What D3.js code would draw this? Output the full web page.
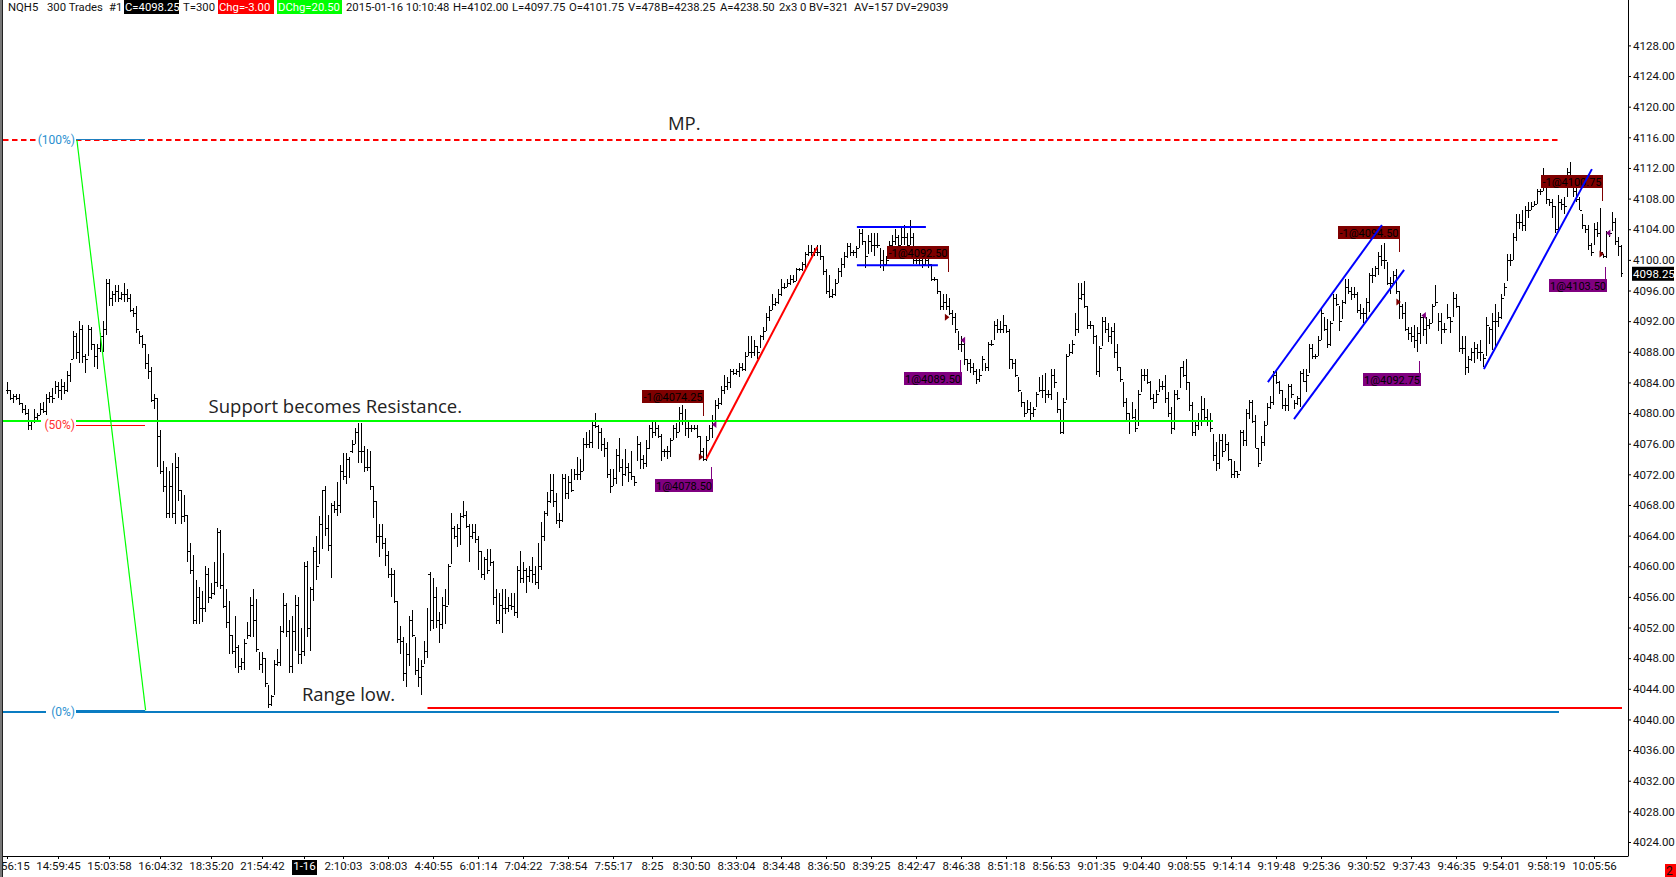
<!DOCTYPE html>
<html>
<head>
<meta charset="utf-8">
<title>NQH5 300 Trades</title>
<script src="https://cdn.jsdelivr.net/npm/d3@7"></script>
<style>
    html, body { margin: 0; padding: 0; background: #fff; overflow: hidden; }
    text { font-family: Roboto, "Open Sans", sans-serif; }
    .note { font-family: "Open Sans", sans-serif; font-size: 18.5px; fill: #222; }
</style>
</head>
<body>
<div id="chart"></div>
<script>
// bar values, one row per 20 bars
var highs = [
4084,4083,4082.5,4082.5,4082.5,4081.25,4081,4080.5,4079,4080.5,4080,4081.25,4081.5,4082.5,4082.75,4083.25,4084.25,4084,4084.5,4084,
4085.5,4086.5,4090.75,4090.5,4092,4091.5,4087.75,4091.5,4091.25,4089,4089,4090.5,4092,4097.5,4097.5,4096,4096.75,4096.75,4095.75,4097,
4096.25,4095.5,4093.75,4094,4090.75,4090.25,4089,4087.75,4086,4082.5,4082,4077.75,4073.75,4073,4072.5,4073.5,4074.75,4074.25,4070,4069.25,
4066.75,4063,4061.5,4058.25,4057.25,4056.75,4060,4059.75,4057.75,4060.5,4065,4064.75,4061.75,4057,4055.5,4051,4053.5,4049.75,4048,4050.5,
4052.75,4056,4057,4055.75,4048.75,4048.75,4048,4044.5,4043.25,4047.75,4049.25,4052.25,4056.5,4055.25,4053,4053.5,4056.25,4056,4052,4060.5,
4060.75,4057.25,4062.5,4064,4066.5,4070,4070.5,4066.75,4068.25,4068.5,4071,4073.25,4074.75,4074.75,4074.25,4076.5,4078,4078.75,4078.75,4075.75,
4075.25,4075,4070.5,4068.5,4065.5,4065.5,4063.75,4062,4059.75,4059.5,4055.5,4052.25,4050.75,4050,4053.5,4054.25,4050.75,4048,4047.75,4050.25,
4054.5,4059.25,4058.5,4057.25,4054,4056,4057,4060.25,4067,4065.25,4065.5,4067,4068.5,4067.25,4065.5,4065.5,4065.5,4064,4062,4061.25,
4062.25,4062.25,4060.75,4057,4056.5,4057,4057,4056,4056.5,4056.5,4060,4062,4060.5,4059.75,4060,4061.25,4060,4063,4065.75,4067.25,
4069.75,4072,4072,4069.5,4067,4072,4072,4071.75,4072.75,4072.75,4074.25,4074,4076.75,4077.5,4077.75,4079,4080,4078.5,4078,4076.75,
4076.25,4072.75,4072.75,4075.25,4076.75,4074,4075.25,4073.5,4075,4071.75,4077,4076.25,4074.5,4076.5,4078.5,4079,4079,4078.5,4077.25,4075.25,
4075.75,4076.75,4078.5,4078.75,4080.75,4081,4080.5,4079,4078.5,4078.5,4078.5,4077,4075.5,4077,4078.5,4079.75,4081.75,4082,4083.5,4085,
4084.75,4085.75,4085.75,4085.75,4086.5,4086.5,4088,4090,4090,4089.5,4088.75,4090.25,4091.25,4093,4094,4095.5,4095,4096.25,4097.5,4097,
4097.5,4098,4098,4099,4099,4099.75,4101,4102,4102,4101.5,4102,4102,4100.5,4098.75,4098,4096.25,4097.5,4099,4100.25,4101,
4102.25,4102.25,4101.25,4101.75,4104,4104,4102.5,4103.25,4103.5,4103.5,4103.5,4101.5,4101.25,4100.5,4102.5,4103.25,4104,4103.25,4104.25,4104.5,
4103.5,4105.25,4103.5,4101.75,4100.5,4100.5,4100.5,4100.5,4099.5,4097.75,4097.5,4096,4095.5,4095.5,4095,4093.5,4093,4090.75,4090,4089.75,
4087,4087,4086.5,4085.75,4085.75,4087.5,4086.5,4089.25,4089.5,4092,4092.25,4092,4092.75,4091.5,4091,4087,4087,4084.75,4082.75,4081.5,
4081.75,4081.5,4080.75,4082.75,4084.75,4085,4085.25,4083,4085.75,4085.75,4082.75,4080.5,4082,4087.75,4089,4089.5,4093,4097,4097,4097.25,
4094,4092,4091.5,4090.25,4088.75,4092.5,4092.5,4091.75,4091.25,4091.75,4089,4086,4084,4082,4080,4081.5,4080.5,4083,4085.75,4085.75,
4085.75,4084.25,4082.5,4083,4084.5,4084.25,4085,4082.75,4080.75,4083,4083,4086,4086.75,4087,4084,4081.5,4079,4080,4082.25,4082,
4080.5,4080,4077.25,4076.25,4077.25,4077.25,4077.25,4076.25,4074,4073.75,4072.5,4077.75,4077.75,4080.5,4081.75,4081.75,4079.75,4075.5,4077,4079,
4081.25,4082.25,4085.5,4085.5,4084.25,4083,4082,4083.75,4083.75,4081.75,4082.25,4085.5,4085.75,4085.75,4089,4089,4087.75,4090,4093.75,4092.5,
4092.25,4092,4095.5,4095.5,4094,4094.75,4097.5,4097.5,4096.5,4096.5,4095.75,4094.25,4093.75,4095,4098.25,4099,4099.25,4101,4102,4102.25,
4099.75,4097.75,4098.5,4098.75,4096,4094.25,4094.5,4091.25,4091.25,4091.5,4091.25,4093,4092.75,4092.5,4092.25,4094.25,4096.75,4093,4093,4091.75,
4094.25,4092.5,4095.75,4095.5,4094,4090,4090,4087.5,4088.5,4089.25,4089,4089.5,4087.75,4092.5,4091.25,4093,4094.25,4093.25,4095.5,4097,
4100.75,4100.75,4103.5,4106,4106,4106.5,4107,4107.5,4107.5,4107.75,4109.25,4109.25,4112,4109.5,4108,4108,4107,4108.5,4108,4108.25,
4112,4112.75,4110.5,4109.5,4108.25,4106,4104.5,4104.5,4102.25,4104.75,4105,4106.75,4100.75,4103.75,4103.75,4106.25,4105.5,4103,4102
];
var lows = [
4082.5,4081.75,4081.25,4081.75,4081,4080,4079.75,4077.75,4077.75,4078.75,4079,4079.75,4080,4079.75,4081.25,4081.25,4082.5,4082,4081.75,4082.5,
4082.75,4084,4087,4087,4086.5,4086.5,4085.25,4087.5,4088.25,4086,4085.75,4088,4088,4090.25,4094,4094,4094.5,4094.5,4094.75,4094.5,
4094.5,4093.25,4092.5,4090.5,4089,4088.5,4085.75,4084.5,4081.5,4080.5,4073,4072,4069.75,4066.25,4066.25,4066.25,4065.5,4068.5,4065.5,4065.75,
4060.5,4059,4052.5,4052.5,4052.5,4052.75,4054,4055.25,4055.75,4056.25,4057.25,4057,4054.5,4052,4048.5,4048.5,4046.75,4046,4046.5,4046.5,
4050.5,4050.75,4050.75,4048.75,4046.5,4046,4044.25,4041.5,4041.75,4043.25,4047,4047,4051.25,4050.75,4046,4046,4049,4047.25,4047.25,4048.25,
4050.75,4049,4055.5,4058.25,4060.25,4062.25,4064,4062,4058.5,4067,4066.5,4067,4071.25,4070.75,4071.5,4074.75,4076,4073.5,4073.5,4072.25,
4072.5,4070,4066.25,4063,4061.25,4062.25,4060,4058.5,4056,4055.25,4050,4048.5,4045,4044.25,4047,4050.75,4045.75,4044.25,4043.25,4047.25,
4048,4051.5,4051.75,4052,4050,4051.75,4052.5,4055,4060.25,4063.5,4062.5,4062.75,4066.25,4065,4060.5,4063.5,4063,4059.5,4058.5,4058.25,
4059,4060,4055,4052.5,4052.5,4051.25,4053.75,4054,4054.25,4053.5,4053.25,4057.75,4057.75,4056.5,4058,4057.75,4057.5,4057,4059.5,4063.25,
4066.5,4068.25,4067.75,4065.5,4065,4065.75,4068.75,4068.75,4069.75,4071.25,4071.25,4071.25,4072.5,4075.5,4075.5,4075.5,4078,4075.25,4075,4074.25,
4071.5,4069.5,4070.5,4070.75,4072.25,4070.5,4071.75,4071,4071.25,4070.5,4073.75,4072.75,4072.75,4073,4075.25,4076.75,4077,4076.75,4073.75,4074.25,
4074,4074.25,4076.5,4076.75,4077.5,4078.5,4077,4076.75,4077.5,4077.75,4076.75,4074.25,4073.75,4073.75,4076.5,4076.75,4078.25,4080.5,4081,4082.5,
4083,4083.25,4085,4085,4084.75,4085.5,4085.5,4087.5,4087.25,4087.5,4087,4088.5,4089.5,4090.75,4092,4093.5,4094,4094.25,4095.25,4096.25,
4096.5,4096.75,4097,4097.25,4098.5,4098.5,4099,4100.5,4100.5,4100.5,4100.5,4100,4098,4095.5,4095,4095,4095.25,4097,4097.75,4099,
4100.25,4100.5,4100.5,4100.25,4101.5,4102,4099,4100.75,4101,4100.5,4101.5,4099,4098.5,4099.25,4100.25,4101.25,4102,4101.5,4102,4102,
4101.25,4102,4099.5,4099.5,4099.25,4099,4099.25,4099,4097.25,4097.25,4095.5,4093.5,4093.5,4093.5,4092.75,4091.5,4090.5,4088.25,4088,4086.25,
4085.5,4085.25,4085,4083.75,4084,4085.5,4085.5,4085.5,4088.75,4089.5,4090.5,4090.5,4090.5,4090.5,4085.75,4085.75,4084.75,4082.75,4080.75,4079.5,
4080,4079,4079.5,4080.75,4082.75,4082,4081.25,4082,4081.75,4083.25,4080,4077.25,4077.25,4081.75,4087.5,4087.75,4090,4090.5,4094.75,4093.75,
4091,4091,4089,4085,4084.75,4088.75,4090.5,4089.25,4089,4087.25,4085.5,4084,4080.75,4079,4077.25,4079.25,4077.5,4078.25,4082.75,4084.25,
4083.75,4081.75,4080.5,4081.25,4082.75,4083,4081.25,4079.5,4077.25,4077.75,4081.75,4083.25,4084.75,4083,4080.25,4077,4077,4077.75,4078.25,4079,
4078.25,4077.5,4073.75,4072.5,4072.75,4074.25,4075,4073.75,4071.5,4071.5,4071.5,4072.5,4075.75,4075.75,4079.25,4078.75,4075.5,4073,4073.75,4075.75,
4078.5,4080.5,4081,4083.75,4082.5,4080.5,4080.25,4080.25,4082,4080.5,4081,4080.75,4084,4082.75,4085.25,4087,4087,4087.5,4089.5,4090.75,
4088.5,4088.75,4092,4094,4090.75,4092.25,4094.25,4095.5,4094.75,4095,4093,4092.25,4091.75,4092.25,4093.25,4097,4097.75,4098,4099.25,4098.75,
4096.75,4095.5,4096.75,4095.5,4092.25,4092.25,4090.75,4089.5,4089.25,4088.5,4088,4089,4090,4089,4091,4091.75,4094,4090.75,4089,4090.5,
4092.25,4090.5,4092.5,4093.75,4088,4087.75,4085,4085.25,4086.75,4086.5,4087,4086.75,4086,4087.5,4089,4088.25,4088.75,4091.25,4092.25,4095.25,
4097.25,4099.25,4100,4102.5,4104,4103.75,4103.75,4105.5,4106.5,4107,4107.25,4108.5,4109,4107.25,4107,4105.5,4103.5,4103.75,4106.5,4106,
4108.25,4110,4108.25,4107.5,4106.5,4104,4103.5,4101.25,4100.5,4102,4103,4100.75,4100.25,4100.25,4103,4103.75,4102,4100.5,4097.75
];
var closes = [
4083,4082,4082.25,4082,4081.25,4080.5,4080,4078.5,4079,4079.5,4079.75,4080.5,4080.25,4082,4082.25,4082,4083.5,4083,4083.5,4083,
4085,4087,4090,4088,4091,4087.5,4087,4091,4089,4087.5,4088.5,4090,4091,4097,4095,4095.5,4096,4095,4095.5,4095.5,
4095,4093.5,4093,4091,4090,4089,4086.5,4085.5,4081.75,4082,4077,4072.5,4070.5,4067,4070.5,4067,4073,4070,4066.5,4066.75,
4062,4059.5,4053,4056,4054.5,4054.5,4059,4056,4056.5,4058,4064.5,4057.5,4054.75,4052.75,4051,4049,4049.5,4047,4047.5,4050,
4051,4055,4053,4049.25,4047.25,4048,4044.75,4042,4043,4047.25,4047.5,4051.5,4055,4051.5,4047,4051.5,4055,4048.5,4049,4060,
4052,4057,4062,4060,4065.5,4070,4065,4062.75,4068,4067.5,4068,4072.5,4071.75,4074,4075,4076,4077.5,4075,4075,4073,
4073,4070.5,4068.5,4064,4064,4063,4061.5,4059,4059,4055.5,4050.5,4050.25,4046,4048.5,4053,4051,4046.5,4045.5,4047,4049,
4059,4053,4056,4053,4052.5,4055,4054.75,4060,4065,4064,4065,4066.5,4066.75,4065.25,4064,4064.5,4063.5,4062,4059,4061,
4059.5,4060.5,4056,4053,4055,4054.5,4054.5,4055,4054.75,4054,4059.5,4058.5,4059.5,4058.75,4059.5,4059,4058,4060,4064,4067,
4068.5,4070,4068.5,4066,4066,4071.5,4069.5,4071,4070,4072,4072,4072.5,4076,4076,4076.25,4078.5,4078.25,4077.5,4076,4075.5,
4072,4070.5,4071.5,4074.5,4073,4072,4073,4072.25,4071.75,4071,4076,4074,4073.5,4075.5,4078,4077.5,4078,4077,4075,4075,
4075,4076.5,4078,4077.5,4080,4079,4078,4078,4078,4078,4077,4075,4074,4076.5,4078,4079,4081,4081.25,4083,4083.5,
4084,4085.5,4085.25,4085.5,4086,4085.75,4087.5,4088,4088,4088.75,4088,4090,4090.75,4092.5,4093.5,4094.25,4094.5,4095.5,4096.5,4096.5,
4097,4097.5,4097.25,4098.75,4098.75,4099.5,4100.75,4101,4101,4101,4101,4100.5,4098.5,4096,4095.25,4095.5,4097,4098.5,4099.5,4100.5,
4101.75,4101,4101,4101.5,4103.5,4102.5,4100.5,4102.5,4102,4102,4102,4100,4099.5,4100,4102,4102.5,4103,4102,4103,4103,
4102,4103,4100,4100,4100,4099.5,4100,4099.5,4097.5,4097.5,4096,4094,4094.5,4094,4093,4092.5,4091,4089,4089,4087,
4086.5,4086,4085.5,4084.5,4085,4087,4086,4089,4089,4091.5,4091,4091,4091.5,4090.75,4087,4086.5,4085,4083,4081.5,4080,
4080.5,4080,4080.5,4082.5,4083,4083,4082.5,4082.5,4085,4084,4080.5,4077.5,4081.5,4087.5,4088,4089,4091,4095,4095.5,4094,
4091.5,4091.5,4090,4085.5,4088.5,4092,4091,4090,4090.75,4088,4086,4084.5,4081.5,4080,4079,4079.5,4078,4082.5,4085,4085,
4084,4082,4081.5,4082.5,4083.5,4083.5,4082,4080,4078,4082.5,4082,4086,4085,4084,4081,4077.5,4078.5,4079,4080.5,4079.5,
4079,4078,4074.5,4073.5,4076.5,4075,4076,4074,4072,4072.5,4072,4077.5,4076.5,4080,4081.5,4079,4075.5,4073.5,4076.25,4078.5,
4080.75,4081.5,4085,4084,4083,4081,4081,4083.5,4082.5,4081.25,4082,4085.25,4084.25,4085,4088.5,4087.5,4087.5,4089.5,4093,4091,
4089,4091.75,4095,4094.25,4092,4094.5,4096.5,4096,4095.5,4095.5,4093.5,4093,4093,4094.5,4098,4098,4099,4100.5,4100,4100,
4097,4097,4098,4096,4094,4093,4091,4090.5,4090,4089.5,4090.5,4092.5,4091,4091.5,4091.75,4094,4094.5,4092,4091,4091,
4092.5,4092,4095,4094,4088.5,4088.5,4086,4087,4088,4088.5,4088,4088,4087.25,4091.5,4091,4092,4092,4092.5,4095,4096.5,
4100,4100,4103,4105,4105,4104.5,4106.5,4106.5,4107,4107.25,4109,4109,4109.5,4108,4107.5,4107,4104,4107.5,4107.25,4107,
4111.5,4110.5,4109,4108,4106.5,4104.5,4104,4102,4101,4104,4103.5,4101,4100.5,4103.5,4103.5,4105,4102.5,4101.75,4098.25
];

var timeLabels = ["14:56:15","14:59:45","15:03:58","16:04:32","18:35:20","21:54:42","1-16","2:10:03","3:08:03","4:40:55","6:01:14","7:04:22","7:38:54","7:55:17","8:25","8:30:50","8:33:04","8:34:48","8:36:50","8:39:25","8:42:47","8:46:38","8:51:18","8:56:53","9:01:35","9:04:40","9:08:55","9:14:14","9:19:48","9:25:36","9:30:52","9:37:43","9:46:35","9:54:01","9:58:19","10:05:56"];
var timeBars = [0,17,34,51,68,85,99,112,127,142,157,172,187,202,215,228,243,258,273,288,303,318,333,348,363,378,393,408,423,438,453,468,483,498,513,529];
var priceTicks = d3.range(4024, 4129, 4);
var lastPrice = 4098.25;

// levels
var mpPrice = 4115.65, halfPrice = 4078.5, supportPrice = 4079, rangeLowPrice = 4041, redLowPrice = 4041.5;

// trade flags
var tradeLabels = ["-1@4074.25","1@4078.50","-1@4092.50","1@4089.50","-1@4094.50","1@4092.75","-1@4100.75","1@4103.50"];
var tradePrices = [4074.25,4078.5,4092.5,4089.5,4094.5,4092.75,4100.75,4103.5];
var tradeBars = [231.3,235.8,313.3,318.7,463.8,472.3,531.5,533.8];
var flagBars = [231.9,234.7,313.7,317.7,463.9,470.6,531.7,532.7];
var flagPrices = [4079.6,4073,4098.4,4086.9,4101,4086.8,4107.7,4099.1];

// drawn lines: [bar, price, bar, price]
var redTrend = [233.1,4074,270.1,4101.7];
var blueLines = [
    [283.3,4104.3,306.3,4104.3],
    [283.3,4099.3,310.3,4099.3],
    [420.3,4084.05,458.3,4104.55],
    [429,4079.2,465.7,4098.7],
    [492.3,4085.75,528.3,4111.85]
];
var swingLine = [23.3,4115.65,46.2,4041.2];

var width = 1676, height = 877;
var plotLeft = 3, plotRight = 1628, plotBottom = 856;

var svg = d3.select('#chart').append('svg')
    .attr('width', width)
    .attr('height', height)
    .style('display', 'block');

var xScale = d3.scaleLinear().domain([0, 538]).range([7, 1621]);
var yScale = d3.scaleLinear().domain([4024, 4128]).range([842, 45.4]);

svg.append('defs').append('clipPath').attr('id', 'plotClip')
    .append('rect')
    .attr('x', plotLeft).attr('y', 0)
    .attr('width', width - plotLeft).attr('height', height);

var plot = svg.append('g').attr('clip-path', 'url(#plotClip)');

// left border of the window
svg.append('rect').attr('x', 0).attr('y', 0).attr('width', 2).attr('height', plotBottom + 21).attr('fill', '#777');
svg.append('line').attr('x1', 2.5).attr('x2', 2.5).attr('y1', 0).attr('y2', plotBottom + 21).attr('stroke', '#222');

function hline(price, x1, x2, color, w, dash) {
    // even widths sit on a whole pixel so they stay sharp
    var y = Math.round(yScale(price)) + (w % 2 === 0 ? 0 : 0.5);
    return plot.append('line')
        .attr('x1', x1).attr('x2', x2)
        .attr('y1', y).attr('y2', y)
        .attr('stroke', color).attr('stroke-width', w)
        .attr('stroke-dasharray', dash || null);
}

// bars
var bars = highs.map(function(h, i) {
    return {i: i, h: h, l: lows[i], c: closes[i], o: i ? closes[i - 1] : closes[i]};
});
function px(v) { return Math.round(v) + 0.5; }
plot.append('g').selectAll('path')
    .data(bars)
    .enter()
    .append('path')
    .attr('d', function(d) {
        var x = px(xScale(d.i));
        return 'M' + x + ',' + Math.round(yScale(d.h)) + 'V' + Math.round(yScale(d.l)) +
            'M' + (x - 1.5) + ',' + px(yScale(d.o)) + 'H' + (x - 0.5) +
            'M' + (x + 0.5) + ',' + px(yScale(d.c)) + 'H' + (x + 1.5);
    })
    .attr('fill', 'none')
    .attr('stroke', '#000')
    .attr('stroke-width', 1)
    .attr('shape-rendering', 'crispEdges');

// level lines
hline(mpPrice, 3, 38, '#ff0000', 2, '5.5,3.5');
hline(mpPrice, 76, 1559, '#ff0000', 2, '5.5,3.5');
hline(supportPrice, 3, 41, '#00ff00', 2);
hline(supportPrice, 76, 1213, '#00ff00', 2);
hline(halfPrice, 76, 145, '#ff0000', 1);
hline(mpPrice + 0.15, 76, 145, '#1f7fbf', 1);
hline(rangeLowPrice, 3, 46, '#0a7cc2', 2);
hline(rangeLowPrice, 76, 1559, '#0a7cc2', 2);
hline(rangeLowPrice + 0.1, 76, 145, '#0a7cc2', 3);
hline(redLowPrice, 427.5, 1622, '#ff0000', 2);

plot.append('line')
    .attr('x1', xScale(swingLine[0])).attr('y1', yScale(swingLine[1]))
    .attr('x2', xScale(swingLine[2])).attr('y2', yScale(swingLine[3]))
    .attr('stroke', '#00ff00').attr('stroke-width', 1.2);

// percent tags
var pctLabels = ['(100%)', '(50%)', '(0%)'];
var pctPrices = [mpPrice, halfPrice, rangeLowPrice];
var pctColors = ['#2a8fd0', '#ff3030', '#2a8fd0'];
plot.selectAll('.pct').data(pctLabels).enter().append('text')
    .attr('class', 'pct')
    .attr('x', 75)
    .attr('y', function(d, i) { return yScale(pctPrices[i]) + 4; })
    .attr('text-anchor', 'end')
    .attr('font-size', 12)
    .attr('fill', function(d, i) { return pctColors[i]; })
    .text(function(d) { return d; });

// trade flags
var flags = tradeLabels.map(function(t, i) {
    return {text: t, sell: t.charAt(0) === '-', x: xScale(flagBars[i]), y: yScale(flagPrices[i])};
});
var flagG = plot.append('g').selectAll('g').data(flags).enter().append('g')
    .attr('transform', function(d) { return 'translate(' + Math.round(d.x) + ',' + Math.round(d.y) + ')'; });
flagG.append('line')
    .attr('x1', 0.5).attr('x2', 0.5)
    .attr('y1', 0).attr('y2', function(d) { return d.sell ? -13 : 12; })
    .attr('stroke', function(d) { return d.sell ? '#7f0000' : '#800080'; });
flagG.append('rect')
    .attr('x', function(d) { return d.sell ? -61 : -56; })
    .attr('y', function(d) { return d.sell ? -26 : 12; })
    .attr('width', function(d) { return d.sell ? 62 : 58; })
    .attr('height', 13)
    .attr('fill', function(d) { return d.sell ? '#7f0000' : '#800080'; });
flagG.append('text')
    .attr('x', function(d) { return d.sell ? -30 : -27; })
    .attr('y', function(d) { return d.sell ? -15.5 : 22.5; })
    .attr('text-anchor', 'middle')
    .attr('font-size', 11)
    .attr('fill', '#000')
    .text(function(d) { return d.text; });

// fill markers
plot.append('g').selectAll('path').data(tradePrices).enter().append('path')
    .attr('transform', function(d, i) {
        return 'translate(' + xScale(tradeBars[i]) + ',' + yScale(d) + ')';
    })
    .attr('d', function(d, i) {
        return tradeLabels[i].charAt(0) === '-' ? 'M-2,-3.5L2.5,0L-2,3.5Z' : 'M2,-3.5L-2.5,0L2,3.5Z';
    })
    .attr('fill', function(d, i) { return tradeLabels[i].charAt(0) === '-' ? '#7f0000' : '#800080'; });

// hand drawn trend lines
plot.append('line')
    .attr('x1', xScale(redTrend[0])).attr('y1', yScale(redTrend[1]))
    .attr('x2', xScale(redTrend[2])).attr('y2', yScale(redTrend[3]))
    .attr('stroke', '#ff0000').attr('stroke-width', 2);
plot.append('g').selectAll('line').data(blueLines).enter().append('line')
    .attr('x1', function(d) { return xScale(d[0]); })
    .attr('y1', function(d) { return yScale(d[1]); })
    .attr('x2', function(d) { return xScale(d[2]); })
    .attr('y2', function(d) { return yScale(d[3]); })
    .attr('stroke', '#0000ff')
    .attr('stroke-width', 2);

// written notes: bar position of the text start and price of the baseline
var noteTexts = ['MP.', 'Support becomes Resistance.', 'Range low.'];
var noteBars = [220.3, 67.2, 98.3];
var notePrices = [4117, 4080, 4042.4];
plot.selectAll('.note').data(noteTexts).enter().append('text')
    .attr('class', 'note')
    .attr('x', function(d, i) { return xScale(noteBars[i]); })
    .attr('y', function(d, i) { return yScale(notePrices[i]); })
    .text(function(d) { return d; });

// axes
var xAxis = d3.axisBottom(xScale)
    .tickValues(timeBars)
    .tickFormat(function(d, i) { return timeLabels[i]; })
    .tickSize(3)
    .tickPadding(3);
var xAxisG = svg.append('g')
    .attr('transform', 'translate(0,' + plotBottom + ')')
    .attr('clip-path', 'url(#plotClip)')
    .call(xAxis);
xAxisG.select('.domain').remove();
xAxisG.selectAll('text').attr('font-size', 11.5).attr('font-family', 'Roboto').attr('fill', '#111');
xAxisG.selectAll('.tick')
    .filter(function(d, i) { return timeLabels[i] === '1-16'; })
    .each(function() {
        var t = d3.select(this);
        t.insert('rect', 'text').attr('x', -12.5).attr('y', 4).attr('width', 25).attr('height', 15).attr('fill', '#000');
        t.select('text').attr('fill', '#fff');
    });

var yAxis = d3.axisRight(yScale)
    .tickValues(priceTicks)
    .tickFormat(d3.format('.2f'))
    .tickSize(3)
    .tickPadding(2);
var yAxisG = svg.append('g')
    .attr('transform', 'translate(' + plotRight + ',0)')
    .call(yAxis);
yAxisG.select('.domain').remove();
yAxisG.selectAll('text').attr('font-size', 11.5).attr('font-family', 'Roboto').attr('fill', '#111');

svg.append('line').attr('x1', plotLeft).attr('x2', plotRight + 0.5).attr('y1', plotBottom + 0.5).attr('y2', plotBottom + 0.5).attr('stroke', '#000');
svg.append('line').attr('x1', plotRight + 0.5).attr('x2', plotRight + 0.5).attr('y1', 0).attr('y2', plotBottom).attr('stroke', '#000');

// last price tag
var tagY = yScale(lastPrice);
svg.append('rect').attr('x', 1632).attr('y', tagY - 6.5).attr('width', 42).attr('height', 14).attr('fill', '#000');
svg.append('text').attr('x', 1633).attr('y', tagY + 4.5).attr('font-size', 11.5).attr('fill', '#fff').text('4098.25');

// corner box
svg.append('rect').attr('x', 1665).attr('y', 864).attr('width', 11).attr('height', 13).attr('fill', '#ff0000');
svg.append('text').attr('x', 1666).attr('y', 875).attr('font-size', 12).attr('fill', '#111').text('2');

// header strip
var headerBoxes = [[124, 55, '#000'], [218, 56, '#ff0000'], [277, 65, '#00ff00']];
svg.append('g').selectAll('rect').data(headerBoxes).enter().append('rect')
    .attr('x', function(d) { return d[0]; })
    .attr('y', 0)
    .attr('width', function(d) { return d[1]; })
    .attr('height', 14)
    .attr('fill', function(d) { return d[2]; });
var headerTexts = ['NQH5','300 Trades','#1','C=4098.25','T=300','Chg=-3.00','DChg=20.50','2015-01-16 10:10:48','H=4102.00','L=4097.75','O=4101.75','V=478','B=4238.25','A=4238.50','2x3','0','BV=321','AV=157','DV=29039'];
var headerX = [8,47,109,125,183,219,278,346,453,512,569,628,661,720,779,800,809,854,896];
var headerFill = ['#111','#111','#111','#fff','#111','#fff','#fff','#111','#111','#111','#111','#111','#111','#111','#111','#111','#111','#111','#111'];
svg.append('g').selectAll('text').data(headerTexts).enter().append('text')
    .attr('x', function(d, i) { return headerX[i]; })
    .attr('y', 11)
    .attr('font-size', 11.3)
    .attr('fill', function(d, i) { return headerFill[i]; })
    .text(function(d) { return d; });
</script>
</body>
</html>
